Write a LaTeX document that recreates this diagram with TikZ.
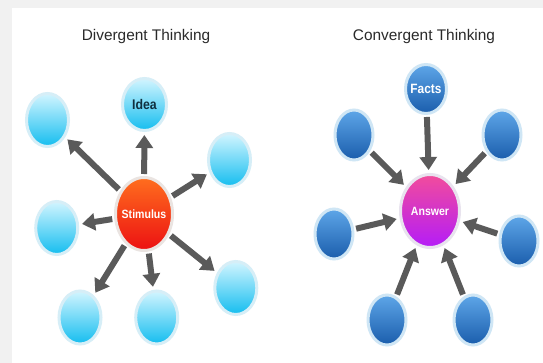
\documentclass[tikz,border=0pt]{standalone}
\usepackage{fontspec}
\setmainfont{Liberation Sans}
\newfontfamily\labfont[FakeStretch=0.88]{Liberation Sans}
\usetikzlibrary{shapes.geometric,arrows.meta}
\definecolor{bggrey}{HTML}{F1F1F1}
\definecolor{ttlgrey}{HTML}{2A2A2A}
\definecolor{argrey}{HTML}{5A5A5A}
\definecolor{cytop}{HTML}{D2F5FF}
\definecolor{cybot}{HTML}{14BDEF}
\definecolor{cyhalo}{HTML}{D6EEF7}
\definecolor{bltop}{HTML}{5EA6E8}
\definecolor{blbot}{HTML}{1A5DAC}
\definecolor{blhalo}{HTML}{CFE6F5}
\definecolor{sttop}{HTML}{FF6E1E}
\definecolor{stbot}{HTML}{EC1012}
\definecolor{sthalo}{HTML}{EAE4E1}
\definecolor{antop}{HTML}{F24C9C}
\definecolor{anbot}{HTML}{B41CF8}
\definecolor{anhalo}{HTML}{E8E3EE}
\definecolor{idtext}{HTML}{10303F}
\begin{document}
\begin{tikzpicture}
[x=1pt,y=-1pt, e/.style={ellipse,inner sep=0pt,line width=3pt},
dv/.style={e,minimum width=42pt,minimum height=53pt,draw=cyhalo,top color=cytop,bottom color=cybot},
cv/.style={e,minimum width=38pt,minimum height=50pt,draw=blhalo,top color=bltop,bottom color=blbot},
lab/.style={inner xsep=-14pt,font=\labfont\bfseries\fontsize{#1}{#1}\selectfont},
ar/.style={draw=argrey,line width=6pt,-{Triangle[width=17pt,length=13pt]},shorten >=3pt,shorten <=2pt},
ttl/.style={anchor=base,text=ttlgrey,font=\fontsize{15.4}{16}\selectfont}]
\useasboundingbox (0,0) rectangle (543,363);
\fill[bggrey] (0,0) rectangle (543,363);\fill[white] (12,8) rectangle (543,363);
\node(dt) at (146,40.5)[ttl]{Divergent Thinking};\node(ct) at (424,40.5)[ttl]{Convergent Thinking};
\node(st) at (144,214)[e,minimum width=57pt,minimum height=73pt,draw=sthalo,top color=sttop,bottom color=stbot,lab=12,text=white]{Stimulus};
\node(id) at (144.5,104.5)[dv,minimum width=44pt,minimum height=52pt,lab=14,text=idtext]{Idea};
\node(d1) at (47.5,120)[dv]{};\node(d2) at (229.5,160)[dv]{};\node(d3) at (56.7,228)[dv]{};
\node(d4) at (235.8,288)[dv]{};\node(d5) at (80,317.5)[dv]{};\node(d6) at (156.7,317.5)[dv]{};
\node(an) at (430,211)[e,minimum width=59pt,minimum height=73pt,draw=anhalo,top color=antop,bottom color=anbot,lab=12,text=white]{Answer};
\node(fa) at (426,89)[cv,minimum width=41pt,minimum height=49pt,lab=13.5,text=white]{Facts};
\node(c1) at (354,135)[cv]{};\node(c2) at (502,135)[cv]{};\node(c3) at (334,234)[cv]{};
\node(c4) at (519,241)[cv]{};\node(c5) at (387,320)[cv]{};\node(c6) at (473,320)[cv]{};
\draw[ar](st)--(id);\draw[ar](st)--(d1);\draw[ar](st)--(d2);\draw[ar](st)--(d3);
\draw[ar](st)--(d4);\draw[ar](st)--(d5);\draw[ar](st)--(d6);
\draw[ar](fa)--(an);\draw[ar](c1)--(an);\draw[ar](c2)--(an);\draw[ar](c3)--(an);
\draw[ar](c4)--(an);\draw[ar](c5)--(an);\draw[ar](c6)--(an);
\end{tikzpicture}
\end{document}
